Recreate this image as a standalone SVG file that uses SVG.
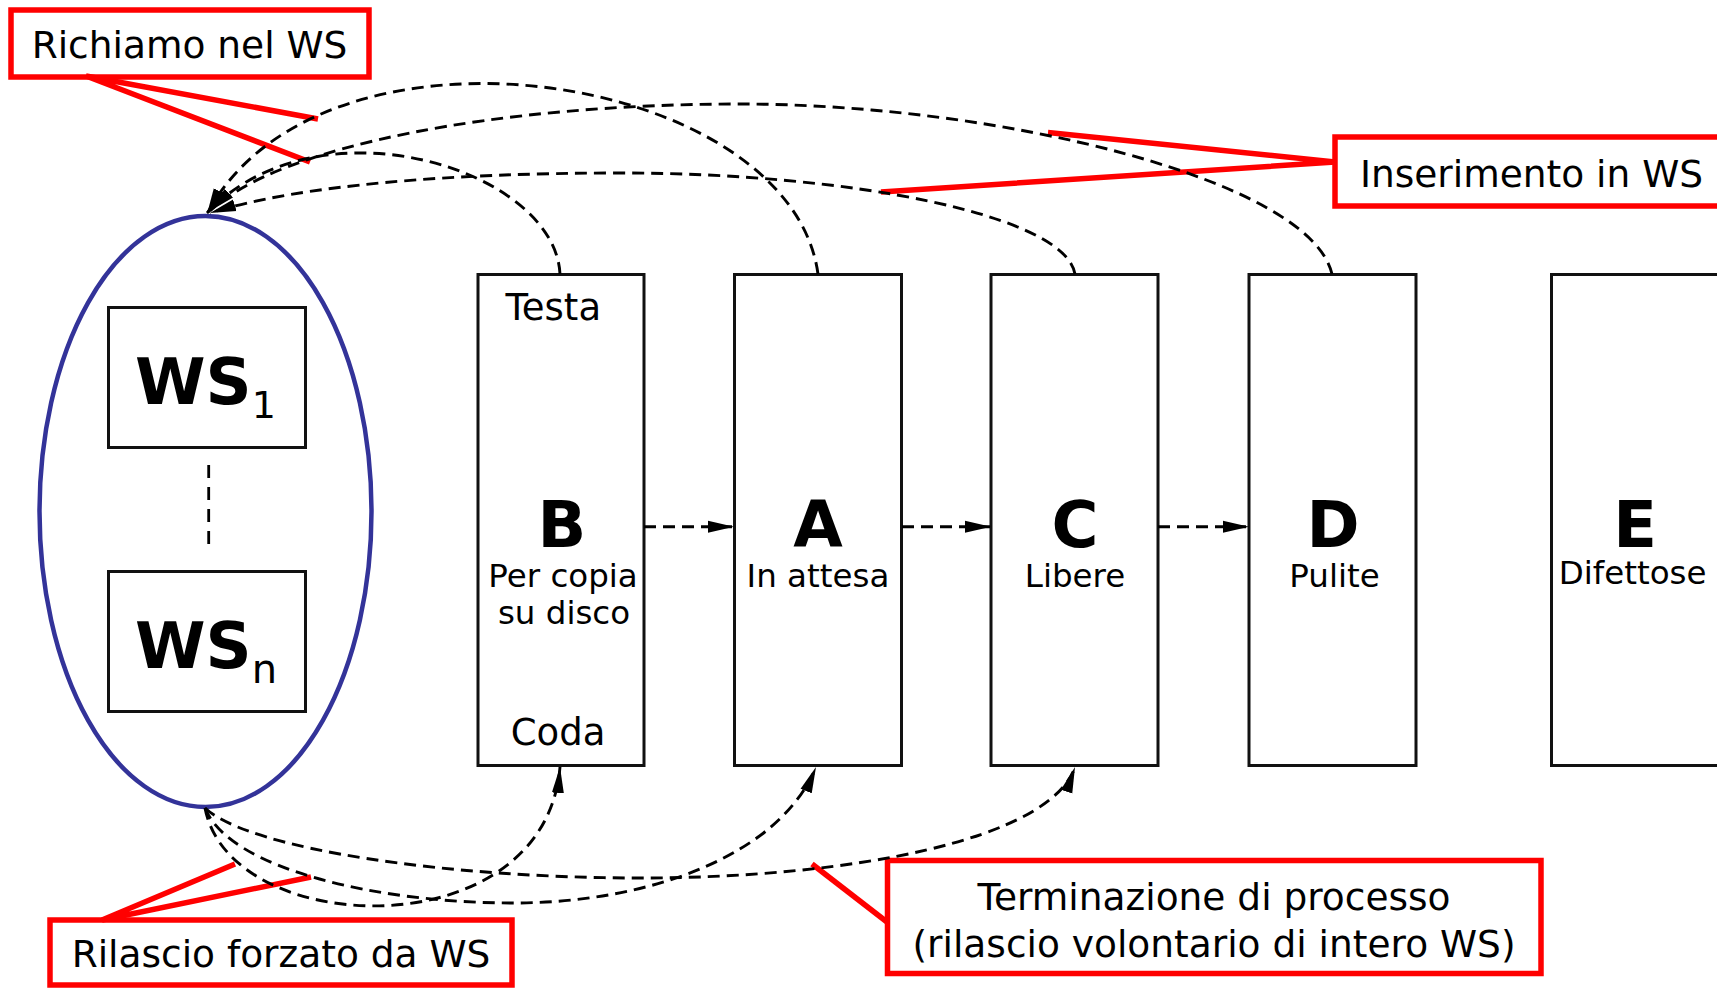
<svg xmlns="http://www.w3.org/2000/svg" width="1717" height="988" viewBox="0 0 1717 988">
<defs>
<style>
.t{font-family:"DejaVu Sans","Verdana",sans-serif;fill:#000}
.box{fill:#fff;stroke:#111;stroke-width:3}
.big{font-weight:bold;font-size:64px}
.sub{font-size:32.5px}
.end{font-size:37px}
.cl{fill:#fff;stroke:#ff0000;stroke-width:5.5}
.lead{stroke:#ff0000;stroke-width:5.5;fill:none}
.dash{fill:none;stroke:#000;stroke-width:2.9;stroke-dasharray:12 7}
.lbl{font-size:37.5px}
</style>
<marker id="ah" markerUnits="userSpaceOnUse" markerWidth="27" markerHeight="13" refX="26" refY="6.5" orient="auto">
<path d="M0,0.5 L26,6.5 L0,12.5 z" fill="#000"/>
</marker>
</defs>
<rect width="1717" height="988" fill="#fff"/>

<g id="ws-set">
<ellipse cx="205.5" cy="511.5" rx="166" ry="295.5" fill="none" stroke="#333399" stroke-width="4.5"/>
<rect class="box" x="108.5" y="307.5" width="197" height="140"/>
<text class="t" x="135" y="403.6" font-weight="bold" font-size="64">WS<tspan font-weight="normal" font-size="38" dy="14.5">1</tspan></text>
<line x1="208.7" y1="465" x2="208.7" y2="549" stroke="#000" stroke-width="2.8" stroke-dasharray="13 9"/>
<rect class="box" x="108.5" y="571.5" width="197" height="140"/>
<text class="t" x="135" y="667.8" font-weight="bold" font-size="64">WS<tspan font-weight="normal" font-size="40" dy="15">n</tspan></text>
</g>

<g id="queue-B">
<rect class="box" x="478" y="274.5" width="166" height="491"/>
<text class="t end" x="553.3" y="320" text-anchor="middle">Testa</text>
<text class="t big" x="562" y="546.7" text-anchor="middle">B</text>
<text class="t sub" x="563" y="586.7" text-anchor="middle">Per copia</text>
<text class="t sub" x="564" y="624" text-anchor="middle">su disco</text>
<text class="t end" x="558" y="745" text-anchor="middle">Coda</text>
</g>

<g id="queue-A">
<rect class="box" x="734.5" y="274.5" width="167" height="491"/>
<text class="t big" x="818" y="546.7" text-anchor="middle">A</text>
<text class="t sub" x="818" y="586.7" text-anchor="middle">In attesa</text>
</g>

<g id="queue-C">
<rect class="box" x="991" y="274.5" width="167" height="491"/>
<text class="t big" x="1075" y="546.7" text-anchor="middle">C</text>
<text class="t sub" x="1075" y="586.7" text-anchor="middle">Libere</text>
</g>

<g id="queue-D">
<rect class="box" x="1249" y="274.5" width="167" height="491"/>
<text class="t big" x="1333" y="546.7" text-anchor="middle">D</text>
<text class="t sub" x="1334.5" y="586.7" text-anchor="middle">Pulite</text>
</g>

<g id="queue-E">
<rect class="box" x="1551.5" y="274.5" width="167" height="491"/>
<text class="t big" x="1635" y="546.7" text-anchor="middle">E</text>
<text class="t sub" x="1632.6" y="584" text-anchor="middle">Difettose</text>
</g>

<g id="label-richiamo">
<rect class="cl" x="11" y="10" width="358" height="67"/>
<text class="t lbl" x="189.5" y="58" text-anchor="middle">Richiamo nel WS</text>
</g>

<g id="label-inserimento">
<rect class="cl" x="1335" y="137" width="400" height="69"/>
<text class="t lbl" x="1531.5" y="186.7" text-anchor="middle">Inserimento in WS</text>
</g>

<g id="label-rilascio">
<rect class="cl" x="50" y="920" width="462" height="65"/>
<text class="t lbl" x="281" y="966.7" text-anchor="middle">Rilascio forzato da WS</text>
</g>

<g id="label-terminazione">
<rect class="cl" x="887.5" y="860.5" width="653.5" height="113"/>
<text class="t" x="1214" y="910" font-size="37.5" text-anchor="middle">Terminazione di processo</text>
<text class="t" x="1214" y="956.7" font-size="37.5" text-anchor="middle">(rilascio volontario di intero WS)</text>
</g>

<g id="connectors">
<g id="leaders">
<path class="lead" d="M86,76 L318,119 M86,76 L310,162"/>
<path class="lead" d="M1335,162 L1048,132.5 M1335,162 L881,192"/>
<path class="lead" d="M102,920 L235,864 M102,920 L311,877"/>
<path class="lead" d="M812,864 L887,922"/>
</g>
<g id="flows">
<path class="dash" d="M644,526.7 L734,526.7" marker-end="url(#ah)"/>
<path class="dash" d="M902,526.7 L991,526.7" marker-end="url(#ah)"/>
<path class="dash" d="M1158,526.7 L1249,526.7" marker-end="url(#ah)"/>
</g>
<g id="to-ws">
<path class="dash" d="M560,274 C555,170 320,95 207,213" marker-end="url(#ah)"/>
<path class="dash" d="M818,274 C790,70 320,0 207,214" marker-end="url(#ah)"/>
<path class="dash" d="M1075,274 C1065,215 850,173 620,173 C450,173 300,185 210,213" marker-end="url(#ah)"/>
<path class="dash" d="M1332,274 C1310,180 1000,104 740,104 C500,104 280,145 210,211" marker-end="url(#ah)"/>
</g>
<g id="from-ws">
<path class="dash" d="M205,808 C230,940 545,950 560,767" marker-end="url(#ah)"/>
<path class="dash" d="M205,808 C230,870 380,903 513,903 C650,903 780,855 816,767" marker-end="url(#ah)"/>
<path class="dash" d="M205,808 C250,850 450,878 640,878 C850,878 1050,840 1075,767" marker-end="url(#ah)"/>
</g>
</g>
</svg>
